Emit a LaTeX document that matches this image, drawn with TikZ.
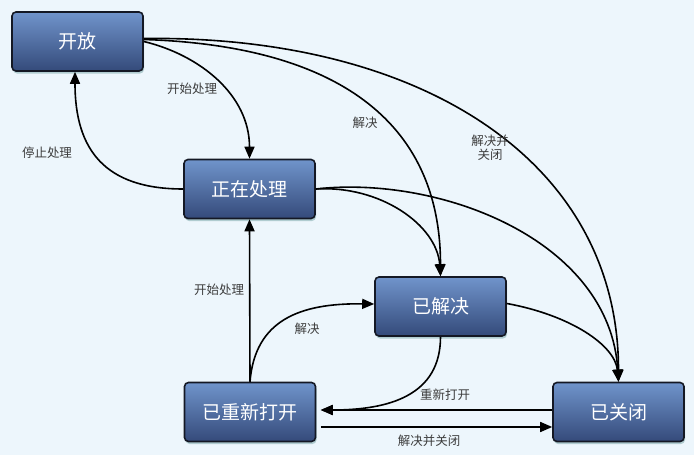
\documentclass[tikz,border=0pt]{standalone}
\usepackage{fontspec}
\newfontfamily\cjk{Noto Sans CJK SC}
\usetikzlibrary{arrows.meta,shadows}
\definecolor{bgcol}{RGB}{237,246,252}
\definecolor{boxtop}{RGB}{112,148,203}
\definecolor{boxbot}{RGB}{52,74,122}
\definecolor{boxedge}{RGB}{20,24,36}
\definecolor{lblcol}{RGB}{60,60,60}
\tikzset{
  state/.style={draw=boxedge, line width=1.6pt, rounded corners=4pt,
    top color=boxtop, bottom color=boxbot,
    minimum width=131pt, minimum height=59pt, inner sep=0pt,
    text=white, font=\fontsize{19}{22}\selectfont\cjk,
    drop shadow={shadow xshift=1pt, shadow yshift=-2.5pt, fill=teal!50!gray, opacity=.35}},
  conn/.style={line width=1.6pt, draw=black, -{Triangle[length=12pt,width=10pt]}},
  lbl/.style={text=lblcol, font=\fontsize{12.5}{14}\selectfont\cjk, align=center, inner sep=0pt}
}
\begin{document}
\begin{tikzpicture}[x=1pt,y=-1pt]
\fill[bgcol] (0,0) rectangle (694,455);
\useasboundingbox (0,0) rectangle (694,455);

\node[state] (kf) at (77.5,41.5) {开放};
\node[state] (zz) at (249.5,189) {正在处理};
\node[state] (yj) at (440.5,306.5) {已解决};
\node[state] (cx) at (250,412) {已重新打开};
\node[state] (yg) at (618.5,412) {已关闭};

% from 开放
\draw[conn] (kf.east) .. controls (200,55) and (249.5,95) .. (zz.north);
\draw[conn] ([yshift=2pt]kf.east) .. controls (320,45) and (440.5,110) .. (yj.north);
\draw[conn] ([yshift=3pt]kf.east) .. controls (420,35) and (618.5,160) .. (yg.north);
% from 正在处理
\draw[conn] (zz.west) .. controls (105,189) and (75,150) .. ([xshift=-2.5pt]kf.south);
\draw[conn] (zz.east) .. controls (380,185) and (437,225) .. (yj.north);
\draw[conn] (zz.east) .. controls (440,175) and (610,240) .. (yg.north);
% from 已解决
\draw[conn] ([yshift=3pt]yj.east) .. controls (570,315) and (615,345) .. (yg.north);
\draw[conn] (yj.south) .. controls (440.5,395) and (390,410) .. ([xshift=4.5pt,yshift=2pt]cx.east);
% from 已关闭
\draw[conn] ([yshift=2pt]yg.west) -- ([xshift=4.5pt,yshift=2pt]cx.east);
% from 已重新打开
\draw[conn] ([xshift=4.5pt,yshift=-15pt]cx.east) -- ([yshift=-15pt]yg.west);
\draw[conn] (cx.north) -- (zz.south);
\draw[conn] (cx.north) .. controls (255,320) and (300,303) .. ([yshift=2.5pt]yj.west);

% labels
\node[lbl] (l1) at (192,89) {开始处理};
\node[lbl] (l2) at (47,153) {停止处理};
\node[lbl] (l3) at (365,123) {解决};
\node[lbl] (l4) at (490,148) {解决并\\关闭};
\node[lbl] (l5) at (219,290) {开始处理};
\node[lbl] (l6) at (307,329) {解决};
\node[lbl] (l7) at (445,395) {重新打开};
\node[lbl] (l8) at (429,441) {解决并关闭};
\end{tikzpicture}
\end{document}
